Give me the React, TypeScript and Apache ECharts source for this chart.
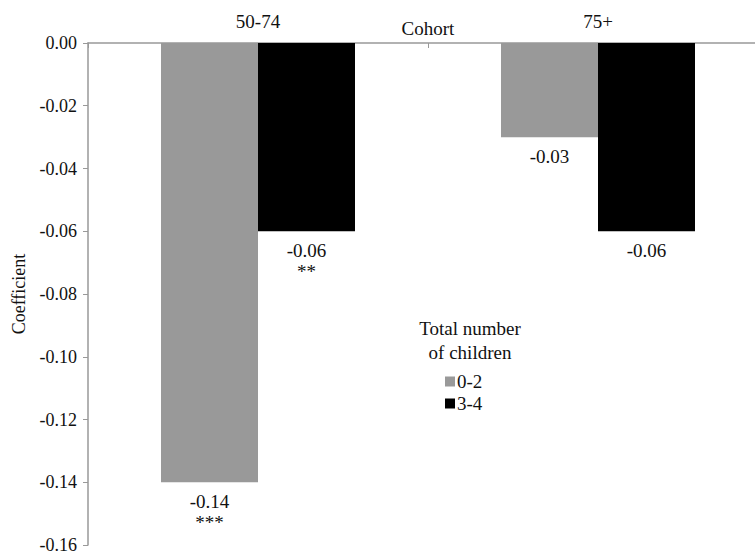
import React, { useEffect, useRef } from "react";
import * as echarts from "echarts";

const categories = ["50-74", "75+"];
const seriesNames = ["0-2", "3-4"];
const values02 = [-0.14, -0.03];
const values34 = [-0.06, -0.06];
const stars02 = ["***", ""];
const stars34 = ["**", ""];
const yTicks = { min: -0.16, max: 0, interval: 0.02 };

const FONT = "Liberation Serif";

export default function App() {
  const ref = useRef<HTMLDivElement>(null);
  useEffect(() => {
    const chart = echarts.init(ref.current!, null, { renderer: "svg" });
    const makeLabel = (stars: string[]) => ({
      show: true,
      position: "bottom",
      distance: 9,
      fontFamily: FONT,
      fontSize: 19,
      color: "#111",
      lineHeight: 21,
      formatter: (p: any) => {
        const s = stars[p.dataIndex];
        return p.value.toFixed(2) + (s ? "\n" + s : "");
      },
    });
    chart.setOption({
      animation: false,
      textStyle: { fontFamily: FONT },
      grid: { left: 88, right: -13, top: 43, bottom: 13, outerBoundsMode: "none", containLabel: false },
      xAxis: {
        type: "category",
        position: "top",
        data: categories,
        name: "Cohort",
        nameLocation: "middle",
        nameGap: 5,
        nameMoveOverlap: false,
        nameTextStyle: { fontFamily: FONT, fontSize: 19, color: "#111" },
        axisLine: { lineStyle: { color: "#999", width: 1.5 } },
        axisTick: { show: true, inside: true, length: 5, lineStyle: { color: "#999" } },
        axisLabel: { fontFamily: FONT, fontSize: 19, color: "#111", margin: 12 },
      },
      yAxis: {
        type: "value",
        min: yTicks.min,
        max: yTicks.max,
        interval: yTicks.interval,
        name: "Coefficient",
        nameLocation: "middle",
        nameGap: 60,
        nameTextStyle: { fontFamily: FONT, fontSize: 18, color: "#111" },
        axisLine: { show: true, lineStyle: { color: "#999", width: 1.5 } },
        axisTick: { show: true, length: 5, lineStyle: { color: "#999" } },
        axisLabel: {
          fontFamily: FONT,
          fontSize: 18,
          color: "#111",
          margin: 11,
          formatter: (v: number) => v.toFixed(2),
        },
        splitLine: { show: false },
      },
      legend: {
        orient: "vertical",
        left: 440,
        top: 367,
        itemWidth: 10,
        itemHeight: 10,
        itemGap: 3,
        icon: "rect",
        textStyle: { fontFamily: FONT, fontSize: 19, color: "#111", padding: [0, 0, 0, -3] },
        data: seriesNames,
      },
      graphic: [
        {
          type: "text",
          x: 470,
          y: 316,
          style: {
            text: "Total number\nof children",
            fontFamily: FONT,
            fontSize: 19,
            lineHeight: 24,
            fill: "#111",
            align: "center",
          },
        },
      ],
      series: [
        {
          name: seriesNames[0],
          type: "bar",
          data: values02,
          barWidth: 97,
          barGap: "0%",
          itemStyle: { color: "#999999" },
          label: makeLabel(stars02),
        },
        {
          name: seriesNames[1],
          type: "bar",
          data: values34,
          barWidth: 97,
          itemStyle: { color: "#000000" },
          label: makeLabel(stars34),
        },
      ],
    });
    return () => chart.dispose();
  }, []);
  return (
    <div
      ref={ref}
      style={{ position: "fixed", left: 0, top: 0, width: 755, height: 558, background: "#fff" }}
    />
  );
}
